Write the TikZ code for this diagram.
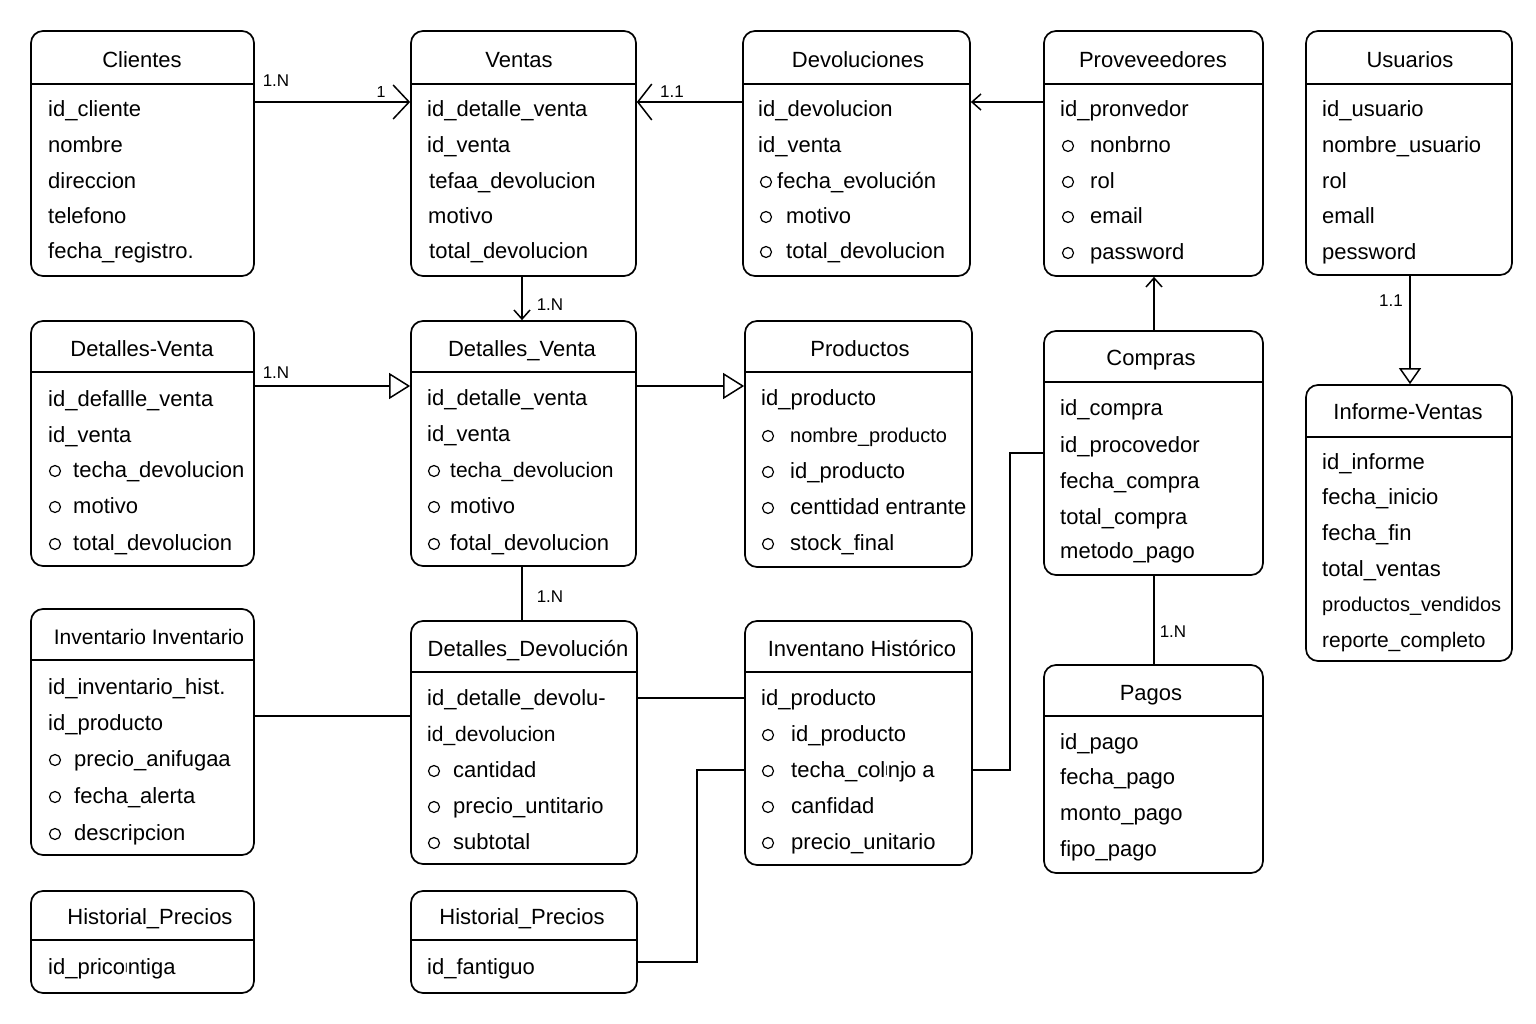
\documentclass[tikz,border=0pt]{standalone}
\usepackage{fontspec}
\setmainfont{Liberation Sans}
\usetikzlibrary{arrows.meta}
\tikzset{
  ent/.style={draw, line width=1.7pt, rounded corners=12pt, inner sep=0pt, fill=white},
  hdr/.style={line width=1.6pt},
  ttl/.style={inner sep=0pt, yshift=-3pt, font=\fontsize{22}{26}\selectfont, text height=16pt, text depth=5pt},
  fld/.style={inner sep=0pt, yshift=-3pt, anchor=west, font=\fontsize{22}{26}\selectfont, text height=16pt, text depth=5pt},
  bul/.style={draw, circle, yshift=-2pt, line width=1.2pt, minimum size=11pt, inner sep=0pt},
  conn/.style={line width=1.5pt},
  lab/.style={inner sep=0pt, font=\fontsize{17}{20}\selectfont},
}
\newcommand\ebox[9]{%
  \node[ent, minimum width={(#4-#2)*1pt}, minimum height={(#5-#3)*1pt}] (#1) at ({(#2+#4)/2},{(#3+#5)/2}) {};
  \draw[hdr] (#1.west |- 0,#6) -- (#1.east |- 0,#6);
  \node[ttl] (#1-t) at (#8,#9) {#7};}
\newcommand\fld[4]{\node[fld] (#1) at (#2,#3) {#4};}
\newcommand\cfld[5]{\node[bul] (#1b) at (#2,#4) {}; \node[fld] (#1) at (#3,#4) {#5};}
\begin{document}
\begin{tikzpicture}[x=1pt,y=-1pt]
\useasboundingbox[fill=white] (0,0) rectangle (1536,1024);

% Row 1
\ebox{cli}{31}{31}{254}{276}{84}{Clientes}{142}{59}
\fld{cli1}{48}{108}{id\_cliente}
\fld{cli2}{48}{144}{nombre}
\fld{cli3}{48}{180}{direccion}
\fld{cli4}{48}{215}{telefono}
\fld{cli5}{48}{250}{fecha\_registro.}

\ebox{ven}{411}{31}{636}{276}{84}{Ventas}{519}{59}
\fld{ven1}{427}{108}{id\_detalle\_venta}
\fld{ven2}{427}{144}{id\_venta}
\fld{ven3}{429}{180}{tefaa\_devolucion}
\fld{ven4}{428}{215}{motivo}
\fld{ven5}{429}{250}{total\_devolucion}

\ebox{dev}{743}{31}{970}{276}{84}{Devoluciones}{858}{59}
\fld{dev1}{758}{108}{id\_devolucion}
\fld{dev2}{758}{144}{id\_venta}
\cfld{dev3}{766}{777}{180}{fecha\_evolución}
\cfld{dev4}{766}{786}{215}{motivo}
\cfld{dev5}{766}{786}{250}{total\_devolucion}

\ebox{pro}{1044}{31}{1263}{276}{84}{Proveveedores}{1153}{59}
\fld{pro1}{1060}{108}{id\_pronvedor}
\cfld{pro2}{1068}{1090}{144}{nonbrno}
\cfld{pro3}{1068}{1090}{180}{rol}
\cfld{pro4}{1068}{1090}{215}{email}
\cfld{pro5}{1068}{1090}{251}{password}

\ebox{usu}{1306}{31}{1512}{275}{84}{Usuarios}{1410}{59}
\fld{usu1}{1322}{108}{id\_usuario}
\fld{usu2}{1322}{144}{nombre\_usuario}
\fld{usu3}{1322}{180}{rol}
\fld{usu4}{1322}{215}{emall}
\fld{usu5}{1322}{251}{pessword}

% Row 2
\ebox{dva}{31}{321}{254}{566}{372}{Detalles-Venta}{142}{348}
\fld{dva1}{48}{398}{id\_defallle\_venta}
\fld{dva2}{48}{434}{id\_venta}
\cfld{dva3}{55}{73}{469}{techa\_devolucion}
\cfld{dva4}{55}{73}{505}{motivo}
\cfld{dva5}{55}{73}{542}{total\_devolucion}

\ebox{dvb}{411}{321}{636}{566}{372}{Detalles\_Venta}{522}{348}
\fld{dvb1}{427}{397}{id\_detalle\_venta}
\fld{dvb2}{427}{433}{id\_venta}
\cfld{dvb3}{434}{450}{469}{\fontsize{21}{25}\selectfont techa\_devolucion}
\cfld{dvb4}{434}{450}{505}{motivo}
\cfld{dvb5}{434}{450}{542}{fotal\_devolucion}

\ebox{prd}{745}{321}{972}{567}{372}{Productos}{860}{348}
\fld{prd1}{761}{397}{id\_producto}
\cfld{prd2}{768}{790}{434}{\fontsize{20}{24}\selectfont nombre\_producto}
\cfld{prd3}{768}{790}{470}{id\_producto}
\cfld{prd4}{768}{790}{506}{centtidad entrante}
\cfld{prd5}{768}{790}{542}{stock\_final}

\ebox{com}{1044}{331}{1263}{575}{382}{Compras}{1151}{357}
\fld{com1}{1060}{407}{id\_compra}
\fld{com2}{1060}{444}{id\_procovedor}
\fld{com3}{1060}{480}{fecha\_compra}
\fld{com4}{1060}{516}{total\_compra}
\fld{com5}{1060}{550}{metodo\_pago}

\ebox{inf}{1306}{385}{1512}{661}{437}{Informe-Ventas}{1408}{411}
\fld{inf1}{1322}{461}{id\_informe}
\fld{inf2}{1322}{496}{fecha\_inicio}
\fld{inf3}{1322}{532}{fecha\_fin}
\fld{inf4}{1322}{568}{total\_ventas}
\fld{inf5}{1322}{603}{\fontsize{20}{24}\selectfont productos\_vendidos}
\fld{inf6}{1322}{639}{\fontsize{21}{25}\selectfont reporte\_completo}

% Row 3
\ebox{inv}{31}{609}{254}{855}{660}{\fontsize{21}{25}\selectfont Inventario Inventario}{149}{636}
\fld{inv1}{48}{686}{id\_inventario\_hist.}
\fld{inv2}{48}{722}{id\_producto}
\cfld{inv3}{55}{74}{758}{precio\_anifugaa}
\cfld{inv4}{55}{74}{795}{fecha\_alerta}
\cfld{inv5}{55}{74}{832}{descripcion}

\ebox{ddv}{411}{621}{637}{864}{672}{Detalles\_Devolución}{528}{648}
\fld{ddv1}{427}{697}{id\_detalle\_devolu-}
\fld{ddv2}{427}{733}{\fontsize{21}{25}\selectfont id\_devolucion}
\cfld{ddv3}{434}{453}{769}{cantidad}
\cfld{ddv4}{434}{453}{805}{precio\_untitario}
\cfld{ddv5}{434}{453}{841}{subtotal}

\ebox{ivh}{745}{621}{972}{865}{672}{Inventano Histórico}{862}{648}
\fld{ivh1}{761}{697}{id\_producto}
\cfld{ivh2}{768}{791}{733}{id\_producto}
\cfld{ivh3}{768}{791}{769}{techa\_col\raisebox{4pt}{\fontsize{10}{10}\selectfont \textbar}nj\hspace{-1pt}o a}
\cfld{ivh4}{768}{791}{805}{canfidad}
\cfld{ivh5}{768}{791}{841}{precio\_unitario}

\ebox{pag}{1044}{665}{1263}{873}{716}{Pagos}{1151}{692}
\fld{pag1}{1060}{741}{id\_pago}
\fld{pag2}{1060}{776}{fecha\_pago}
\fld{pag3}{1060}{812}{monto\_pago}
\fld{pag4}{1060}{848}{fipo\_pago}

\ebox{hpa}{31}{891}{254}{993}{940}{Historial\_Precios}{150}{916}
\fld{hpa1}{48}{966}{id\_prico\raisebox{4pt}{\fontsize{10}{10}\selectfont \textbar}ntiga}

\ebox{hpb}{411}{891}{637}{993}{940}{Historial\_Precios}{522}{916}
\fld{hpb1}{427}{966}{id\_fantiguo}

% Connectors
\draw[conn, -{Straight Barb[length=16pt,width=34pt]}] (cli.east |- 0,102) -- (ven.west |- 0,102);
\node[lab] (l1) at (276,81) {1.N};
\node[lab, font=\fontsize{16}{18}\selectfont] (l2) at (381,92) {1};

\draw[conn, -{Straight Barb[length=14pt,width=36pt]}] (dev.west |- 0,102) -- (ven.east |- 0,102);
\node[lab] (l3) at (672,92) {1.1};

\draw[conn, -{Straight Barb[length=9pt,width=16pt]}] (pro.west |- 0,102) -- (dev.east |- 0,102);

\draw[conn, -{Straight Barb[length=9pt,width=16pt]}] (ven.south -| 522,0) -- (dvb.north -| 522,0);
\node[lab] (l4) at (550,305) {1.N};

\draw[conn, -{Triangle[open,length=21pt,width=26pt,fill=white]}] (dva.east |- 0,386) -- (dvb.west |- 0,386);
\node[lab] (l5) at (276,373) {1.N};

\draw[conn, -{Triangle[open,length=21pt,width=26pt,fill=white]}] (dvb.east |- 0,386) -- (prd.west |- 0,386);

\draw[conn] (dvb.south -| 522,0) -- (ddv.north -| 522,0);
\node[lab] (l6) at (550,597) {1.N};

\draw[conn, -{Straight Barb[length=9pt,width=16pt]}] (com.north -| 1154,0) -- (pro.south -| 1154,0);

\draw[conn, -{Triangle[open,length=16pt,width=22pt,fill=white]}] (usu.south -| 1410,0) -- (inf.north -| 1410,0);
\node[lab] (l7) at (1391,301) {1.1};

\draw[conn] (com.south -| 1154,0) -- (pag.north -| 1154,0);
\node[lab] (l8) at (1173,632) {1.N};

\draw[conn] (inv.east |- 0,716) -- (ddv.west |- 0,716);
\draw[conn] (ddv.east |- 0,698) -- (ivh.west |- 0,698);
\draw[conn] (ivh.east |- 0,770) -- (1010,770) -- (1010,453) -- (com.west |- 0,453);
\draw[conn] (hpb.east |- 0,962) -- (697,962) -- (697,770) -- (ivh.west |- 0,770);
\end{tikzpicture}
\end{document}
